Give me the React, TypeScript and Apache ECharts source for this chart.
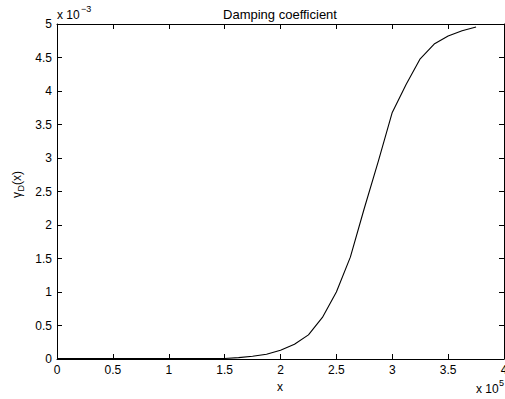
import React, { useEffect, useRef } from "react";
import * as echarts from "echarts";

// x in units of 1e5, y in units of 1e-3
const xValues = [0, 0.125, 0.25, 0.375, 0.5, 0.625, 0.75, 0.875, 1.0, 1.125, 1.25, 1.375, 1.5, 1.625, 1.75, 1.875, 2.0, 2.125, 2.25, 2.375, 2.5, 2.625, 2.75, 2.875, 3.0, 3.125, 3.25, 3.375, 3.5, 3.625, 3.75];
const yValues = [0.005, 0.005, 0.005, 0.005, 0.005, 0.005, 0.005, 0.005, 0.005, 0.005, 0.005, 0.005, 0.008, 0.02, 0.04, 0.07, 0.13, 0.22, 0.36, 0.62, 1.0, 1.52, 2.25, 2.95, 3.68, 4.1, 4.48, 4.7, 4.82, 4.9, 4.955];
const xTicks = [0, 0.5, 1, 1.5, 2, 2.5, 3, 3.5, 4];
const yTicks = [0, 0.5, 1, 1.5, 2, 2.5, 3, 3.5, 4, 4.5, 5];
const titleText = "Damping coefficient";
const xLabel = "x";

const FONT = "Liberation Sans, Arial, Helvetica, sans-serif";

export default function App() {
  const ref = useRef<HTMLDivElement>(null);
  useEffect(() => {
    if (!ref.current) return;
    const chart = echarts.init(ref.current, undefined, { renderer: "svg" });
    const axisCommon = {
      type: "value" as const,
      axisLine: { show: true, onZero: false, lineStyle: { color: "#000", width: 1 } },
      axisTick: { show: true, inside: true, length: 5, lineStyle: { color: "#000", width: 1 } },
      splitLine: { show: false },
    };
    chart.setOption({
      animation: false,
      backgroundColor: "#fff",
      grid: { left: 57, top: 24, width: 447, height: 335, containLabel: false, outerBoundsMode: "none" },
      xAxis: [
        {
          ...axisCommon,
          min: xTicks[0],
          max: xTicks[xTicks.length - 1],
          interval: 0.5,
          position: "bottom",
          axisLabel: { show: true, color: "#000", fontSize: 12, fontFamily: FONT, margin: 5, hideOverlap: false, showMaxLabel: true, formatter: (v: number) => String(v) },
        },
        {
          ...axisCommon,
          min: xTicks[0],
          max: xTicks[xTicks.length - 1],
          interval: 0.5,
          position: "top",
          axisLabel: { show: false },
        },
      ],
      yAxis: [
        {
          ...axisCommon,
          min: yTicks[0],
          max: yTicks[yTicks.length - 1],
          interval: 0.5,
          position: "left",
          axisLabel: { show: true, color: "#000", fontSize: 12, fontFamily: FONT, margin: 5, showMaxLabel: true, formatter: (v: number) => String(v) },
        },
        {
          ...axisCommon,
          min: yTicks[0],
          max: yTicks[yTicks.length - 1],
          interval: 0.5,
          position: "right",
          axisLabel: { show: false },
        },
      ],
      series: [
        {
          type: "line",
          data: xValues.map((x, i) => [x, yValues[i]]),
          showSymbol: false,
          symbol: "none",
          lineStyle: { color: "#000", width: 1.1 },
          xAxisIndex: 0,
          yAxisIndex: 0,
          clip: false,
        },
      ],
      graphic: [
        { type: "text", x: 280, y: 14, style: { text: titleText, font: `13px ${FONT}`, fill: "#000", align: "center", verticalAlign: "middle" } },
        { type: "text", x: 57, y: 15, style: { text: "x 10", font: `12px ${FONT}`, fill: "#000", align: "left", verticalAlign: "middle" } },
        { type: "text", x: 81, y: 9, style: { text: "\u22123", font: `9px ${FONT}`, fill: "#000", align: "left", verticalAlign: "middle" } },
        { type: "text", x: 280, y: 387, style: { text: xLabel, font: `12px ${FONT}`, fill: "#000", align: "center", verticalAlign: "middle" } },
        { type: "text", x: 476, y: 389, style: { text: "x 10", font: `12px ${FONT}`, fill: "#000", align: "left", verticalAlign: "middle" } },
        { type: "text", x: 499, y: 383, style: { text: "5", font: `9px ${FONT}`, fill: "#000", align: "left", verticalAlign: "middle" } },
        {
          type: "group",
          x: 17,
          y: 198,
          rotation: Math.PI / 2,
          children: [
            { type: "text", x: 0, y: 0, style: { text: "\u03b3", font: `12px ${FONT}`, fill: "#000", align: "left", verticalAlign: "middle" } },
            { type: "text", x: 6.5, y: 3.5, style: { text: "D", font: `9px ${FONT}`, fill: "#000", align: "left", verticalAlign: "middle" } },
            { type: "text", x: 13, y: -0.5, style: { text: "(x)", font: `12px ${FONT}`, fill: "#000", align: "left", verticalAlign: "middle" } },
          ],
        },
      ],
    });
    return () => chart.dispose();
  }, []);
  return <div ref={ref} style={{ width: 505, height: 399, position: "absolute", left: 0, top: 0 }} />;
}
